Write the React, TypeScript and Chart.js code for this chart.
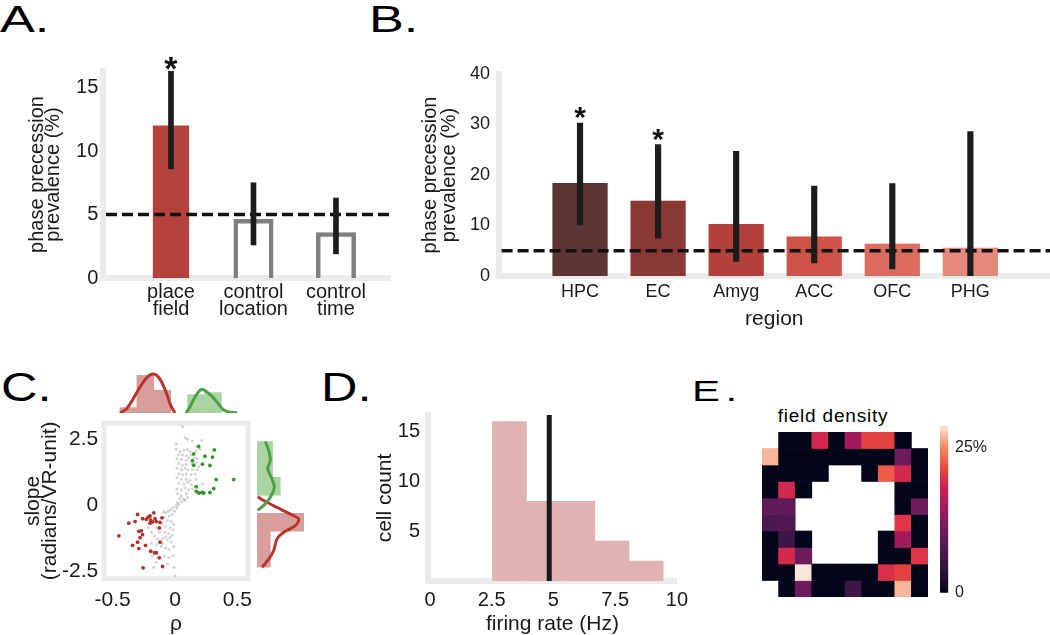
import React, { useEffect, useRef } from 'react';
import { Chart, registerables } from 'chart.js';

Chart.register(...registerables);

const SANS = "'Liberation Sans', Arial, Helvetica, sans-serif";
const AXIS_GRAY = '#ebebeb';
const TEXT = '#1a1a1a';
Chart.defaults.font.family = SANS;
Chart.defaults.color = TEXT;

// ---------------- Panel A data ----------------
const fieldTypes = [['place', 'field'], ['control', 'location'], ['control', 'time']];
const fieldPrevalence = [12.0, 4.65, 3.6];
const fieldCiLow = [8.6, 2.6, 1.9];
const fieldCiHigh = [16.3, 7.5, 6.3];
const fieldSignificant = [true, false, false];
const fieldIsReal = [true, false, false];
const chanceLevel = 5;
const panelATicks = [0, 5, 10, 15];

// ---------------- Panel B data ----------------
const regions = ['HPC', 'EC', 'Amyg', 'ACC', 'OFC', 'PHG'];
const regionPrevalence = [18.6, 15.1, 10.5, 8.0, 6.6, 5.8];
const regionCiLow = [10.1, 7.5, 2.9, 2.6, 1.4, 0.0];
const regionCiHigh = [30.3, 26.0, 24.7, 17.8, 18.3, 28.6];
const regionSignificant = [true, true, false, false, false, false];
const regionColors = ['#5e3534', '#8a3836', '#b4403b', '#cf5249', '#dd6c5f', '#e58a7a'];
const panelBTicks = [0, 10, 20, 30, 40];

// ---------------- Panel C data (rho, slope) ----------------
const grayPoints = [
  [0.06, 2.96], [0.08, 2.54], [0.10, 2.48], [0.215, 2.45], [0.14, 2.42], [0.01, 2.29], [0.17, 2.21], [0.01, 2.11],
  [0.04, 2.02], [0.07, 2.08], [0.10, 2.11], [0.12, 2.02], [0.17, 2.05], [0.20, 2.11], [0.03, 1.90], [0.06, 1.90],
  [0.09, 1.87], [0.13, 1.90], [0.015, 1.75], [0.05, 1.73], [0.09, 1.69], [0.11, 1.78], [0.16, 1.78], [0.18, 1.75],
  [0.03, 1.57], [0.06, 1.51], [0.09, 1.53], [0.13, 1.57], [0.17, 1.61], [0.19, 1.45], [0.015, 1.39], [0.05, 1.33],
  [0.08, 1.39], [0.105, 1.33], [0.14, 1.33], [0.18, 1.33], [0.03, 1.17], [0.06, 1.15], [0.09, 1.17], [0.13, 1.15],
  [0.16, 1.17], [0.015, 1.03], [0.05, 0.97], [0.09, 0.97], [0.12, 0.93], [0.17, 0.97], [0.03, 0.81], [0.07, 0.79],
  [0.10, 0.85], [0.13, 0.76], [0.22, 0.79], [0.015, 0.60], [0.05, 0.57], [0.08, 0.64], [0.11, 0.57], [0.14, 0.60],
  [0.02, 0.42], [0.05, 0.36], [0.09, 0.42], [0.04, 0.24], [0.07, 0.21], [0.10, 0.28], [0.02, 0.08], [0.08, 0.18],
  [0.05, 0.12], [0.03, 0.02], [0.01, -0.02], [-0.015, -0.10], [-0.035, -0.18], [-0.055, -0.24], [-0.075, -0.30],
  [-0.09, -0.27], [-0.05, -0.42], [-0.025, -0.36], [-0.005, -0.24], [0.015, -0.12], [-0.085, -0.48], [-0.06, -0.58],
  [-0.03, -0.63], [-0.01, -0.72], [-0.10, -0.72], [-0.075, -0.82], [-0.04, -0.87], [-0.015, -0.94], [-0.15, -0.85],
  [-0.125, -1.03], [-0.085, -1.03], [-0.055, -1.09], [-0.025, -1.15], [-0.165, -1.18], [-0.14, -1.27], [-0.10, -1.27],
  [-0.06, -1.33], [-0.03, -1.39], [-0.19, -1.45], [-0.15, -1.51], [-0.11, -1.57], [-0.075, -1.63], [-0.05, -1.69],
  [-0.01, -1.57], [-0.18, -1.93], [-0.14, -1.99], [-0.085, -1.93], [-0.05, -1.99], [-0.015, -1.91], [-0.15, -2.17],
  [-0.06, -2.23], [-0.01, -2.36], [-0.17, -2.36], [0.0, -2.68], [-0.215, -0.85], [-0.19, -1.03], [-0.075, -1.21],
  [-0.10, -1.45], [-0.04, -1.23],
];
const redPoints = [
  [-0.30, -0.36], [-0.37, -0.69], [-0.32, -0.63], [-0.26, -0.52], [-0.23, -0.54], [-0.215, -0.46], [-0.20, -0.42],
  [-0.17, -0.30], [-0.195, -0.58], [-0.18, -0.64], [-0.20, -0.69], [-0.16, -0.52], [-0.15, -0.63], [-0.12, -0.66],
  [-0.105, -0.49], [-0.125, -0.87], [-0.45, -1.17], [-0.29, -1.00], [-0.27, -0.98], [-0.26, -1.12], [-0.28, -1.24],
  [-0.30, -1.41], [-0.34, -1.53], [-0.29, -1.65], [-0.236, -1.53], [-0.12, -1.41], [-0.195, -1.75], [-0.165, -1.81],
  [-0.15, -1.81], [-0.125, -2.00], [-0.256, -2.38], [-0.10, -2.33],
];
const greenPoints = [
  [0.19, 2.21], [0.315, 2.08], [0.15, 1.93], [0.24, 1.84], [0.30, 1.81], [0.14, 1.67], [0.22, 1.54], [0.28, 1.49],
  [0.15, 1.50], [0.33, 0.96], [0.47, 0.96], [0.17, 0.69], [0.31, 0.62], [0.17, 0.51], [0.19, 0.45], [0.215, 0.47],
  [0.23, 0.45], [0.28, 0.47],
];
const rhoTicks = [-0.5, 0, 0.5];
const slopeTicks = [-2.5, 0, 2.5];

// marginal over rho (top)
const topRedBinCenters = [-0.381, -0.251, -0.121];
const topRedDensity = [0.54, 3.77, 2.27];
const topGreenBinCenters = [0.139, 0.269];
const topGreenDensity = [1.84, 2.04];
const topRedKdeRho = [-0.446, -0.395, -0.344, -0.292, -0.241, -0.203, -0.164, -0.126, -0.087, -0.056, -0.023];
const topRedKdeDensity = [0, 0.43, 1.43, 2.6, 3.53, 3.87, 3.77, 3.1, 1.93, 0.77, 0];
const topGreenKdeRho = [0.062, 0.092, 0.131, 0.169, 0.195, 0.233, 0.272, 0.31, 0.349, 0.40, 0.456];
const topGreenKdeDensity = [0, 0.6, 1.6, 2.27, 2.33, 2.0, 1.53, 0.93, 0.33, 0.07, 0];

// marginal over slope (right)
const rightGreenBinCenters = [0.575, 1.225, 1.875];
const rightGreenDensity = [2.33, 1.56, 1.56];
const rightRedBinCenters = [-2.025, -1.375, -0.725];
const rightRedDensity = [1.33, 1.33, 4.67];
const rightGreenKdeSlope = [2.20, 1.87, 1.51, 1.21, 0.85, 0.54, 0.18, -0.06, -0.30];
const rightGreenKdeDensity = [0.83, 1.17, 1.33, 1.07, 1.5, 1.73, 1.33, 0.83, 0.07];
const rightRedKdeSlope = [0.20, 0.06, -0.19, -0.43, -0.61, -0.85, -1.09, -1.33, -1.75, -2.06, -2.36];
const rightRedKdeDensity = [0.07, 0.67, 2.0, 3.33, 4.17, 3.83, 2.67, 2.0, 1.67, 1.17, 0.5];

// ---------------- Panel D data ----------------
const rateBinEdges = [2.53, 3.91, 5.29, 6.68, 8.07, 9.44];
const rateCounts = [16, 8, 8, 4, 2];
const medianRate = 4.83;
const rateTicks = [0, 2.5, 5, 7.5, 10];
const countTicks = [5, 10, 15];

// ---------------- Panel E data (% of fields, null = outside track) ----------------
const N = null;
const densityGrid = [
  [N, 0, 0, 18.8, 0, 14.5, 20.8, 20.8, 0, N],
  [26.9, 0, 0, 0, 0, 0, 0, 0, 10.4, 0],
  [0, 0, 0, 0, N, N, 0, 22.5, 18.8, 0],
  [0, 18.8, 0, N, N, N, N, N, 0, 0],
  [9.2, 9.2, N, N, N, N, N, N, 0, 10.4],
  [7.2, 7.5, N, N, N, N, N, N, 20, 0],
  [0, 5.8, 0, N, N, N, N, 0, 14.5, 0],
  [0, 19, 10.4, N, N, N, N, 0, 0, 20],
  [0, 0, 28.7, 0, 0, 0, 0, 19.5, 20.8, 0],
  [N, 0, 10.4, 0, 0, 5.8, 0, 0, 26.9, 0],
];
const densityMax = 28.9;
const colorbarTicks = [0, 25];

const rocketStops: [number, string][] = [
  [0.0, '#03051a'], [0.125, '#2b1437'], [0.25, '#4b184f'], [0.375, '#721c5d'],
  [0.5, '#a11a5b'], [0.625, '#cd1d50'], [0.75, '#ec4c3f'], [0.875, '#f48a64'], [1.0, '#faebdd'],
];

function hexRgb(h: string) {
  return [parseInt(h.slice(1, 3), 16), parseInt(h.slice(3, 5), 16), parseInt(h.slice(5, 7), 16)];
}
function rocket(t: number) {
  const u = Math.max(0, Math.min(1, t));
  for (let i = 1; i < rocketStops.length; i++) {
    const [t1, c1] = rocketStops[i];
    const [t0, c0] = rocketStops[i - 1];
    if (u <= t1) {
      const f = (u - t0) / (t1 - t0);
      const a = hexRgb(c0), b = hexRgb(c1);
      const m = a.map((v, k) => Math.round(v + (b[k] - v) * f));
      return `rgb(${m[0]},${m[1]},${m[2]})`;
    }
  }
  return rocketStops[rocketStops.length - 1][1];
}

// ---------------- layout helpers ----------------
type Box = { x: number; y: number; w: number; h: number };
type Area = { l: number; t: number; r: number; b: number };

function axesLayout(box: Box, area: Area) {
  return {
    padding: { left: 0, top: area.t - box.y, right: box.x + box.w - area.r, bottom: 0 },
    yW: area.l - box.x,
    xH: box.y + box.h - area.b,
  };
}
function baseOptions(padding: any) {
  return {
    responsive: false,
    animation: false,
    devicePixelRatio: 1,
    events: [],
    layout: { padding, autoPadding: false },
    plugins: { legend: { display: false }, tooltip: { enabled: false }, title: { display: false } },
  };
}
const noGrid = { display: false, drawTicks: false };
const grayBorder = { display: true, color: AXIS_GRAY, width: 6 };
const setTicks = (vals: number[]) => (s: any) => {
  s.ticks = vals.map((v) => ({ value: v }));
};
const fmt = (v: any) => (v === 0 ? '0' : String(v));

function chanceLine(value: number, afterIndex: number) {
  return {
    id: 'chanceLine',
    afterDatasetDraw(chart: any, args: any) {
      if (args.index !== afterIndex) return;
      const { ctx, chartArea, scales } = chart;
      const y = scales.y.getPixelForValue(value);
      ctx.save();
      ctx.setLineDash([11, 5]);
      ctx.lineWidth = 3.5;
      ctx.strokeStyle = '#111';
      ctx.beginPath();
      ctx.moveTo(chartArea.left + 3, y);
      ctx.lineTo(chartArea.right, y);
      ctx.stroke();
      ctx.restore();
    },
  };
}
function stars(highs: number[], sig: boolean[], font: string, offset: number) {
  return {
    id: 'stars',
    afterDatasetsDraw(chart: any) {
      const { ctx, scales } = chart;
      ctx.save();
      ctx.font = font;
      ctx.fillStyle = '#111';
      ctx.textAlign = 'center';
      ctx.textBaseline = 'alphabetic';
      sig.forEach((s, i) => {
        if (!s) return;
        ctx.fillText('*', scales.x.getPixelForValue(i), scales.y.getPixelForValue(highs[i]) + offset);
      });
      ctx.restore();
    },
  };
}
const frame = {
  id: 'frame',
  beforeDatasetsDraw(chart: any) {
    const { ctx, chartArea: a } = chart;
    ctx.save();
    ctx.strokeStyle = AXIS_GRAY;
    ctx.lineWidth = 5;
    ctx.strokeRect(a.left, a.top, a.right - a.left, a.bottom - a.top);
    ctx.restore();
  },
};

// ---------------- Panel A ----------------
const A_BOX: Box = { x: 0, y: 40, w: 392, h: 300 };
const A_AREA: Area = { l: 103, t: 71, r: 390, b: 278 };
function configA() {
  const L = axesLayout(A_BOX, A_AREA);
  const idx = fieldTypes.map((_, i) => i);
  return {
    type: 'bar',
    data: {
      datasets: [
        {
          data: idx.map((i) => ({ x: i, y: [fieldCiLow[i], fieldCiHigh[i]] })),
          backgroundColor: '#1c1c1c', barThickness: 5, grouped: false,
        },
        {
          data: idx.filter((i) => fieldIsReal[i]).map((i) => ({ x: i, y: fieldPrevalence[i] })),
          backgroundColor: '#b5423d', barPercentage: 0.44, categoryPercentage: 1, grouped: false,
        },
        {
          data: idx.filter((i) => !fieldIsReal[i]).map((i) => ({ x: i, y: fieldPrevalence[i] })),
          backgroundColor: 'rgba(0,0,0,0)', borderColor: '#7f7f7f', borderWidth: 4.5, borderSkipped: 'bottom',
          barPercentage: 0.485, categoryPercentage: 1, grouped: false,
        },
      ],
    },
    options: {
      ...baseOptions(L.padding),
      scales: {
        x: {
          type: 'linear', min: -0.824, max: 2.655, offset: false, grid: noGrid, border: grayBorder,
          afterBuildTicks: setTicks(idx), afterFit: (s: any) => { s.height = L.xH; },
          ticks: {
            autoSkip: false, maxRotation: 0, minRotation: 0, padding: 6.5, color: TEXT,
            font: { size: 20, lineHeight: 0.84 }, callback: (v: any) => fieldTypes[v] ?? '',
          },
        },
        y: {
          type: 'linear', min: 0, max: 16.3, grid: noGrid, border: grayBorder,
          afterBuildTicks: setTicks(panelATicks), afterFit: (s: any) => { s.width = L.yW; },
          ticks: { padding: 4.7, color: TEXT, font: { size: 20 }, callback: fmt },
          title: {
            display: true, text: ['phase precession', 'prevalence (%)'], color: TEXT,
            font: { size: 20, lineHeight: 0.84 }, padding: { top: 28.6, bottom: 0 },
          },
        },
      },
    },
    plugins: [chanceLine(chanceLevel, 1), stars(fieldCiHigh, fieldSignificant, `bold 34px ${SANS}`, 8.5)],
  };
}

// ---------------- Panel B ----------------
const B_BOX: Box = { x: 395, y: 40, w: 655, h: 300 };
const B_AREA: Area = { l: 498.6, t: 74, r: 1050, b: 276 };
function configB() {
  const L = axesLayout(B_BOX, B_AREA);
  const idx = regions.map((_, i) => i);
  return {
    type: 'bar',
    data: {
      datasets: [
        {
          data: idx.map((i) => ({ x: i, y: [regionCiLow[i], regionCiHigh[i]] })),
          backgroundColor: '#1c1c1c', barThickness: 5.5, grouped: false,
        },
        {
          data: idx.map((i) => ({ x: i, y: regionPrevalence[i] })),
          backgroundColor: regionColors, borderColor: 'rgba(255,235,235,0.55)', borderWidth: 1,
          barPercentage: 0.733, categoryPercentage: 1, grouped: false,
        },
      ],
    },
    options: {
      ...baseOptions(L.padding),
      scales: {
        x: {
          type: 'linear', min: -1.043, max: 6.02, offset: false, grid: noGrid, border: grayBorder,
          afterBuildTicks: setTicks(idx), afterFit: (s: any) => { s.height = L.xH; },
          ticks: {
            autoSkip: false, maxRotation: 0, minRotation: 0, padding: 5, color: TEXT,
            font: { size: 18 }, callback: (v: any) => regions[v] ?? '',
          },
          title: { display: true, text: 'region', color: TEXT, font: { size: 21 }, padding: { top: 0, bottom: 8 } },
        },
        y: {
          type: 'linear', min: 0, max: 40, grid: noGrid, border: grayBorder,
          afterBuildTicks: setTicks(panelBTicks), afterFit: (s: any) => { s.width = L.yW; },
          ticks: { padding: 8.6, color: TEXT, font: { size: 18 }, callback: fmt },
          title: {
            display: true, text: ['phase precession', 'prevalence (%)'], color: TEXT,
            font: { size: 20, lineHeight: 0.95 }, padding: { top: 26, bottom: 0 },
          },
        },
      },
    },
    plugins: [chanceLine(chanceLevel, 1), stars(regionCiHigh, regionSignificant, `bold 30px ${SANS}`, 4.5)],
  };
}

// ---------------- Panel C ----------------
const C_XMIN = -0.569, C_XMAX = 0.585, C_YMIN = -2.783, C_YMAX = 3.087;
const C_BOX: Box = { x: 0, y: 405, w: 262, h: 230 };
const C_AREA: Area = { l: 104, t: 416.5, r: 254, b: 578.5 };
const pts = (arr: number[][]) => arr.map(([x, y]) => ({ x, y }));
function configCMain() {
  const L = axesLayout(C_BOX, C_AREA);
  return {
    type: 'scatter',
    data: {
      datasets: [
        { data: pts(redPoints), pointBackgroundColor: '#b3302b', pointBorderWidth: 0, pointRadius: 1.9 },
        { data: pts(greenPoints), pointBackgroundColor: '#35962e', pointBorderWidth: 0, pointRadius: 1.9 },
        { data: pts(grayPoints), pointBackgroundColor: 'rgba(140,140,140,0.38)', pointBorderWidth: 0, pointRadius: 1.5 },
      ],
    },
    options: {
      ...baseOptions(L.padding),
      scales: {
        x: {
          type: 'linear', min: C_XMIN, max: C_XMAX, grid: noGrid, border: { display: false },
          afterBuildTicks: setTicks(rhoTicks), afterFit: (s: any) => { s.height = L.xH; },
          ticks: { padding: 9.4, color: TEXT, font: { size: 21 }, maxRotation: 0, callback: fmt },
          title: { display: true, text: 'ρ', color: TEXT, font: { size: 21, lineHeight: 1 }, padding: { top: 0, bottom: 0 } },
        },
        y: {
          type: 'linear', min: C_YMIN, max: C_YMAX, grid: noGrid, border: { display: false },
          afterBuildTicks: setTicks(slopeTicks), afterFit: (s: any) => { s.width = L.yW; },
          ticks: { padding: 5.7, color: TEXT, font: { size: 21 }, callback: fmt },
          title: {
            display: true, text: ['slope', '(radians/VR-unit)'], color: TEXT,
            font: { size: 21, lineHeight: 0.81 }, padding: { top: 24.5, bottom: 0 },
          },
        },
      },
    },
    plugins: [frame],
  };
}
const CT_BOX: Box = { x: 104, y: 360, w: 150, h: 53 };
function configCTop() {
  const line = (xs: number[], ys: number[], color: string) => ({
    type: 'scatter', data: xs.map((x, i) => ({ x, y: ys[i] })), showLine: true, borderColor: color,
    borderWidth: 3, pointRadius: 0, clip: false, tension: 0.3,
  });
  return {
    type: 'bar',
    data: {
      datasets: [
        line(topRedKdeRho, topRedKdeDensity, '#b8352e'),
        line(topGreenKdeRho, topGreenKdeDensity, '#4f9f48'),
        {
          data: topRedBinCenters.map((x, i) => ({ x, y: topRedDensity[i] })), backgroundColor: '#d89e9d',
          barPercentage: 1, categoryPercentage: 1, grouped: false, borderWidth: 0,
        },
        {
          data: topGreenBinCenters.map((x, i) => ({ x, y: topGreenDensity[i] })), backgroundColor: '#aad5a3',
          barPercentage: 1, categoryPercentage: 1, grouped: false, borderWidth: 0,
        },
      ],
    },
    options: {
      ...baseOptions({ left: 0, top: 0, right: 0, bottom: 0 }),
      scales: {
        x: {
          type: 'linear', display: false, min: C_XMIN, max: C_XMAX, offset: false,
          afterBuildTicks: setTicks([...topRedBinCenters, ...topGreenBinCenters]),
        },
        y: { type: 'linear', display: false, min: 0, max: 5.3 },
      },
    },
  };
}
const CR_BOX: Box = { x: 257, y: 416.5, w: 53, h: 162 };
function configCRight() {
  const line = (ys: number[], xs: number[], color: string) => ({
    type: 'scatter', indexAxis: 'x', data: ys.map((y, i) => ({ x: xs[i], y })), showLine: true,
    borderColor: color, borderWidth: 3, pointRadius: 0, clip: false, tension: 0.3,
  });
  return {
    type: 'bar',
    data: {
      datasets: [
        line(rightGreenKdeSlope, rightGreenKdeDensity, '#4f9f48'),
        line(rightRedKdeSlope, rightRedKdeDensity, '#b8352e'),
        {
          indexAxis: 'y', data: rightRedBinCenters.map((y, i) => ({ y, x: rightRedDensity[i] })),
          backgroundColor: '#d89e9d', barPercentage: 1, categoryPercentage: 1, grouped: false, borderWidth: 0,
        },
        {
          indexAxis: 'y', data: rightGreenBinCenters.map((y, i) => ({ y, x: rightGreenDensity[i] })),
          backgroundColor: '#aad5a3', barPercentage: 1, categoryPercentage: 1, grouped: false, borderWidth: 0,
        },
      ],
    },
    options: {
      ...baseOptions({ left: 0, top: 0, right: 0, bottom: 0 }),
      scales: {
        x: { type: 'linear', display: false, min: 0, max: 5.3, offset: false },
        y: {
          type: 'linear', display: false, min: C_YMIN, max: C_YMAX, offset: false,
          afterBuildTicks: setTicks([...rightRedBinCenters, ...rightGreenBinCenters]),
        },
      },
    },
  };
}

// ---------------- Panel D ----------------
const D_BOX: Box = { x: 360, y: 395, w: 335, h: 240 };
const D_AREA: Area = { l: 428, t: 409, r: 680, b: 581 };
const D_YMAX = 16.65;
function configD() {
  const L = axesLayout(D_BOX, D_AREA);
  const centers = rateCounts.map((_, i) => (rateBinEdges[i] + rateBinEdges[i + 1]) / 2);
  return {
    type: 'bar',
    data: {
      datasets: [
        {
          type: 'line', data: [{ x: medianRate, y: 0 }, { x: medianRate, y: D_YMAX }],
          borderColor: '#1a1a1a', borderWidth: 5, pointRadius: 0, clip: false,
        },
        {
          data: centers.map((x, i) => ({ x, y: rateCounts[i] })), backgroundColor: '#e0b3b2',
          borderWidth: 0, barPercentage: 1, categoryPercentage: 1, grouped: false,
        },
      ],
    },
    options: {
      ...baseOptions(L.padding),
      scales: {
        x: {
          type: 'linear', min: -0.08, max: 10, offset: false, grid: noGrid, border: grayBorder,
          afterBuildTicks: setTicks(rateTicks), afterFit: (s: any) => { s.height = L.xH; },
          ticks: { padding: 7, color: TEXT, font: { size: 20 }, maxRotation: 0, autoSkip: false, callback: fmt },
          title: { display: true, text: 'firing rate (Hz)', color: TEXT, font: { size: 21, lineHeight: 1 }, padding: { top: 0, bottom: 0 } },
        },
        y: {
          type: 'linear', min: 0, max: D_YMAX, grid: noGrid, border: grayBorder,
          afterBuildTicks: setTicks(countTicks), afterFit: (s: any) => { s.width = L.yW; },
          ticks: { padding: 8, color: TEXT, font: { size: 20 }, callback: fmt },
          title: { display: true, text: 'cell count', color: TEXT, font: { size: 21 }, padding: { top: 12.4, bottom: 0 } },
        },
      },
    },
  };
}

// ---------------- Panel E ----------------
const EH_BOX: Box = { x: 762, y: 432, w: 166, h: 165 };
function configEHeat() {
  const cols = densityGrid[0].map((_, c) => String(c));
  return {
    type: 'bar',
    data: {
      labels: cols,
      datasets: densityGrid.map((row, r) => ({
        data: row.map((v) => (v === null ? null : [r, r + 1])),
        backgroundColor: row.map((v) => (v === null ? 'rgba(0,0,0,0)' : rocket(v / densityMax))),
        borderWidth: 0, barPercentage: 1, categoryPercentage: 1, grouped: false,
      })),
    },
    options: {
      ...baseOptions({ left: 0, top: 0, right: 0, bottom: 0 }),
      scales: {
        x: { type: 'category', display: false, offset: true },
        y: { type: 'linear', display: false, min: 0, max: densityGrid.length, reverse: true, offset: false },
      },
    },
  };
}
const EC_BOX: Box = { x: 940, y: 409, w: 60, h: 200 };
const EC_AREA: Area = { l: 940, t: 419.3, r: 948.3, b: 596.7 };
function configEBar() {
  const yW = EC_BOX.x + EC_BOX.w - EC_AREA.r;
  return {
    type: 'bar',
    data: {
      labels: ['field density'],
      datasets: [
        {
          data: [[0, densityMax]], barPercentage: 1, categoryPercentage: 1, borderWidth: 0,
          backgroundColor: (c: any) => {
            const chart = c.chart;
            if (!chart.chartArea) return '#000';
            const y0 = chart.scales.y.getPixelForValue(0);
            const y1 = chart.scales.y.getPixelForValue(densityMax);
            const g = chart.ctx.createLinearGradient(0, y0, 0, y1);
            rocketStops.forEach(([t, col]) => g.addColorStop(t, col));
            return g;
          },
        },
      ],
    },
    options: {
      ...baseOptions({ left: 0, top: EC_AREA.t - EC_BOX.y, right: 0, bottom: EC_BOX.y + EC_BOX.h - EC_AREA.b }),
      scales: {
        x: { type: 'category', display: false, offset: true },
        y: {
          type: 'linear', position: 'right', min: 0, max: densityMax, grid: noGrid, border: { display: false },
          afterBuildTicks: setTicks(colorbarTicks), afterFit: (s: any) => { s.width = yW; },
          ticks: { padding: 6.7, color: TEXT, font: { size: 16 }, callback: (v: any) => (v === 0 ? '0' : `${v}%`) },
        },
      },
    },
  };
}

// ---------------- components ----------------
function ChartCanvas({ box, config }: { box: Box; config: () => any }) {
  const ref = useRef<HTMLCanvasElement | null>(null);
  useEffect(() => {
    if (!ref.current) return;
    const chart = new Chart(ref.current, config());
    return () => chart.destroy();
  }, []);
  return (
    <canvas
      ref={ref}
      width={Math.round(box.w)}
      height={Math.round(box.h)}
      style={{ position: 'absolute', left: box.x, top: box.y, width: Math.round(box.w), height: Math.round(box.h) }}
    />
  );
}

function PanelLabel({ text, left, top, size, stretch, spacing }: { text: string; left: number; top: number; size: number; stretch: number; spacing: number }) {
  return (
    <div
      style={{
        position: 'absolute', left, top, fontSize: size, lineHeight: 1, letterSpacing: spacing, fontFamily: SANS,
        color: '#000', whiteSpace: 'nowrap', transform: `scaleX(${stretch})`, transformOrigin: 'left top',
      }}
    >
      {text}
    </div>
  );
}

export default function App() {
  return (
    <div style={{ position: 'fixed', left: 0, top: 0, width: 1050, height: 635, background: '#fff', overflow: 'hidden', fontFamily: SANS }}>
      <PanelLabel text="A." left={0} top={2.3} size={36} stretch={1.45} spacing={0} />
      <PanelLabel text="B." left={369} top={2.3} size={36} stretch={1.45} spacing={0} />
      <PanelLabel text="C." left={0.8} top={366.5} size={41} stretch={1.23} spacing={0} />
      <PanelLabel text="D." left={321} top={366.5} size={41} stretch={1.23} spacing={0} />
      <PanelLabel text="E." left={691.6} top={376} size={30} stretch={1.4} spacing={4} />
      <ChartCanvas box={A_BOX} config={configA} />
      <ChartCanvas box={B_BOX} config={configB} />
      <ChartCanvas box={CT_BOX} config={configCTop} />
      <ChartCanvas box={CR_BOX} config={configCRight} />
      <ChartCanvas box={C_BOX} config={configCMain} />
      <ChartCanvas box={D_BOX} config={configD} />
      <ChartCanvas box={EH_BOX} config={configEHeat} />
      <ChartCanvas box={EC_BOX} config={configEBar} />
      <div style={{ position: 'absolute', left: 733, top: 406, width: 200, textAlign: 'center', fontSize: 19, lineHeight: 1, letterSpacing: 0.8, fontFamily: SANS, color: '#000' }}>
        field density
      </div>
    </div>
  );
}
